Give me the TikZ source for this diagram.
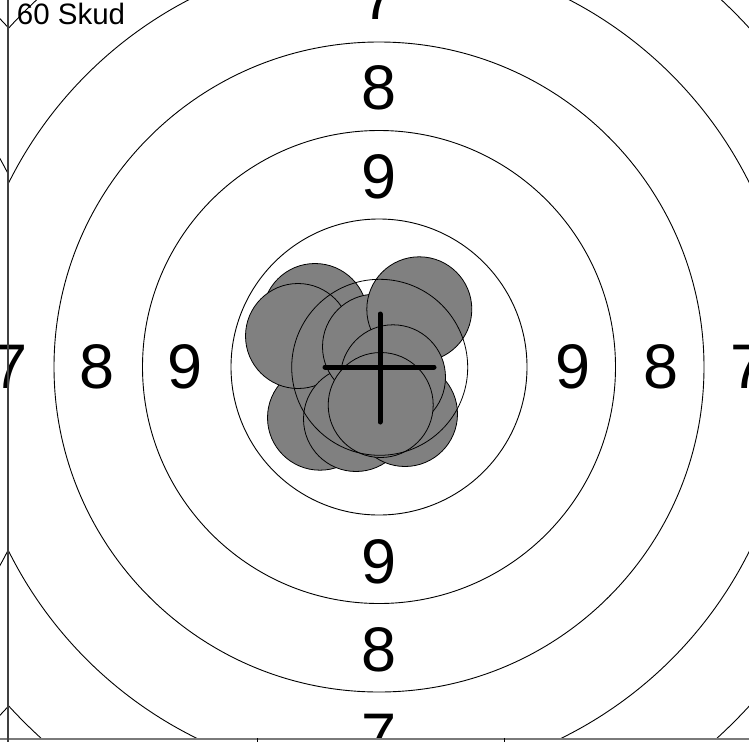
\documentclass[tikz,border=0pt]{standalone}
\usepackage{fontspec}
\setmainfont{Liberation Sans}
\definecolor{shotgray}{HTML}{808080}
\definecolor{axgray}{HTML}{7A7A7A}
\definecolor{axdark}{HTML}{404040}
\begin{document}
\begin{tikzpicture}[x=1pt,y=-1pt,
  ring/.style={draw=black,line width=0.9pt},
  shot/.style={fill=shotgray,draw=black,line width=0.8pt},
  lbl/.style={inner sep=0pt,font=\fontsize{63}{63}\selectfont},
  cross/.style={draw=black,line width=5pt,line cap=round},
  axisline/.style={line width=2pt},
  tickline/.style={draw=black,line width=0.8pt}]
\useasboundingbox (0,0) rectangle (749,742);
\coordinate (c) at (379,367);
% rings
\begin{scope}
  \clip (8,-20) rectangle (770,738);
  \foreach \r in {148,236.5,325,413.5,502} \draw[ring] (c) circle[radius=\r];
\end{scope}
% mirrored ring pieces left of the axis
\coordinate (cm7) at (-363,362);
\coordinate (cm6) at (-363,367);
\begin{scope}
  \clip (-10,-10) rectangle (8,738);
  \draw[ring] (cm7) circle[radius=416];
  \draw[ring] (cm6) circle[radius=503];
\end{scope}
% ring numbers
\begin{scope}
  \clip (-40,-40) rectangle (790,738);
  \node[lbl] (t7) at (379,-2) {7};
  \node[lbl] (t8) at (379,88) {8};
  \node[lbl] (t9) at (379,177) {9};
  \node[lbl] (b9) at (379,562) {9};
  \node[lbl] (b8) at (379,650) {8};
  \node[lbl] (b7) at (379,736) {7};
  \node[lbl] (l7) at (10,367) {7};
  \node[lbl] (l8) at (97,367) {8};
  \node[lbl] (l9) at (185,367) {9};
  \node[lbl] (r9) at (573,367) {9};
  \node[lbl] (r8) at (661,367) {8};
  \node[lbl] (r7) at (748,367) {7};
\end{scope}
% shots
\foreach \x/\y in {315/316, 320/417.7, 298/336, 356/419, 405/414, 375/346.7, 419.3/309.3, 393/377.3, 380.7/405}
  \draw[shot] (\x,\y) circle[radius=52.5];
\draw[ring,line width=0.8pt] (379.7,367.3) circle[radius=88];
% crosshair
\coordinate (hl) at (325,367);
\coordinate (hr) at (434,367);
\coordinate (vt) at (380,314);
\coordinate (vb) at (380,422);
\draw[cross] (hl) -- (hr);
\draw[cross] (vt) -- (vb);
% axes
\coordinate (xa0) at (0,738.5);
\coordinate (xa1) at (749,738.5);
\coordinate (ya0) at (8.3,0);
\coordinate (ya1) at (8.3,742);
\draw[axisline,draw=axgray] (xa0) -- (xa1);
\draw[axisline,draw=axdark] (ya0) -- (ya1);
\coordinate (tk1a) at (257,738);
\coordinate (tk1b) at (257,742);
\coordinate (tk2a) at (504,738);
\coordinate (tk2b) at (504,742);
\draw[tickline] (tk1a) -- (tk1b);
\draw[tickline] (tk2a) -- (tk2b);
% title
\node[anchor=base west,inner sep=0pt,font=\fontsize{29.5}{29.5}\selectfont] (title) at (16.7,24) {60 Skud};
\end{tikzpicture}
\end{document}
